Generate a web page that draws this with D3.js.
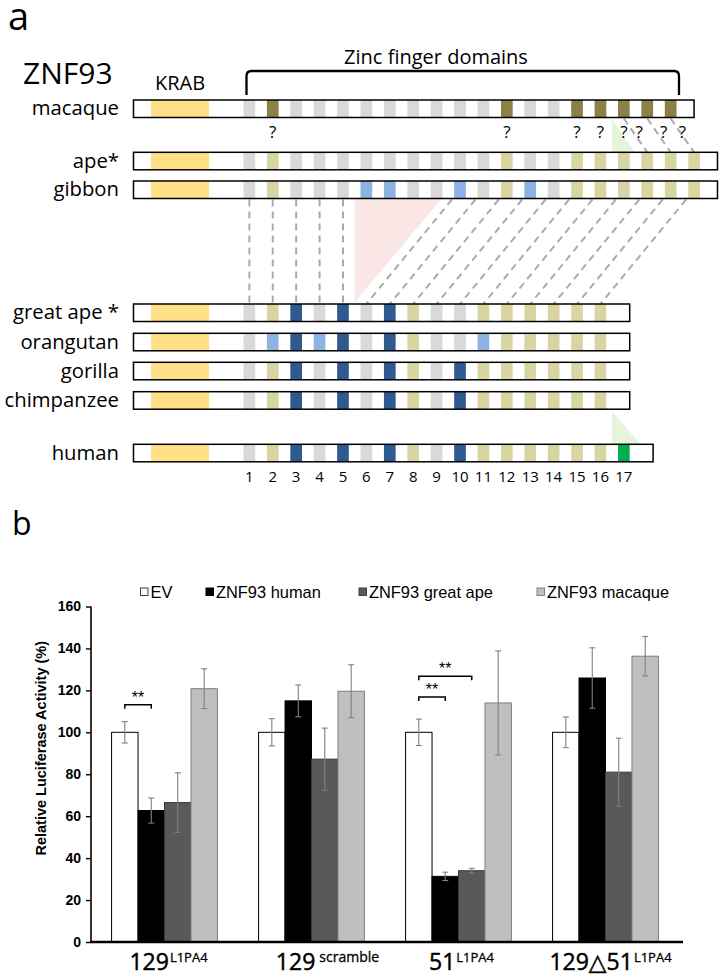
<!DOCTYPE html>
<html><head><meta charset="utf-8">
<script src="https://cdn.jsdelivr.net/npm/d3@7"></script>
<style>body{margin:0;background:#fff} svg{display:block}</style>
</head><body>
<svg id="c" width="725" height="979"></svg>
<script>
// ================= Panel a data =================
const species = ["macaque","ape*","gibbon","great ape *","orangutan","gorilla","chimpanzee","human"];
const zfMacaque   = "g d g g g g g g g g g d g g d d d d d".split(" ");
const zfApe       = "g o g g g g g g g g g o g g o o o o o o".split(" ");
const zfGibbon    = "g o g g g b b g g b g o b g o o o o o o".split(" ");
const zfGreatApe  = "g o n g n g n o g g o o o o o o".split(" ");
const zfOrangutan = "g b n b n g n o g g b o o o o o".split(" ");
const zfGorilla   = "g o n g n g n o g n o o o o o o".split(" ");
const zfChimp     = "g o n g n g n o g n o o o o o o".split(" ");
const zfHuman     = "g o n g n g n o g n o o o o o o G".split(" ");
const zfBySpecies = [zfMacaque, zfApe, zfGibbon, zfGreatApe, zfOrangutan, zfGorilla, zfChimp, zfHuman];
// protein extent in zinc-finger units
const proteinStart = -3.7;
const proteinEnd = [20.25, 21.25, 21.25, 17.5, 17.5, 17.5, 17.5, 18.5];
const krabDomain = [-2.95, -0.47];
const zfNumbers = d3.range(1, 18);
const questionMarks = [2, 12, 15, 16, 17, 17.65, 18.7, 19.5];
const linksMacApe = [[17,18],[18,19],[19,20]];
const linksGibbonGreatApe = [[1,1],[2,2],[3,3],[4,4],[5,5],[10,6],[11,7],[12,8],[13,9],[14,10],[15,11],[16,12],[17,13],[18,14],[19,15],[20,16]];
const deletionGibbon = {from:[5.75, 9.45], to:5.75};
const insertions = [{span:[16.75,17.72], rows:[0,1]}, {span:[16.75,17.95], rows:[6,7]}];

// ================= Panel b data =================
const groups = ["129", "129", "51", "129\u25B351"];
const groupSup = ["L1PA4", "scramble", "L1PA4", "L1PA4"];
const seriesNames = ["EV", "ZNF93 human", "ZNF93 great ape", "ZNF93 macaque"];
const valEV       = [100, 100, 100, 100];
const valHuman    = [62.7, 115, 31.3, 125.9];
const valGreatApe = [66.5, 87.2, 34, 81];
const valMacaque  = [120.8, 119.6, 114, 136.3];
const errEV       = [5.1, 6.5, 6.3, 7.3];
const errHuman    = [6.0, 7.6, 2.0, 14.4];
const errGreatApe = [14.2, 14.8, 1.1, 16.2];
const errMacaque  = [9.5, 12.6, 24.8, 9.4];
const yTicks = [0, 20, 40, 60, 80, 100, 120, 140, 160];
const sigBrackets = [{g:0, a:0, b:1, y:113.2}, {g:2, a:0, b:1, y:116.8}, {g:2, a:0, b:2, y:126.7}];

// ================= Drawing =================
const svg = d3.select("#c");
const FA = "'Open Sans', 'DejaVu Sans', sans-serif";
const FB = "'Liberation Sans', Arial, sans-serif";

const zfColor = {g:"#d9d9d9", o:"#d9d5a3", d:"#8c7f47", b:"#8db3e2", n:"#2f5a8f", G:"#00b050"};
const xZ = d3.scaleLinear().domain([1, 17]).range([243.5, 618]);
const zfW = 11.7;
const rowTop = [100, 152.3, 181, 304, 333.3, 362.3, 391.7, 444.3];
const rowH = 17.5;

svg.append("text").attr("x", 8).attr("y", 30).attr("font-family", FA).attr("font-size", 38).text("a");
svg.append("text").attr("x", 23).attr("y", 84).attr("font-family", FA).attr("font-size", 30).text("ZNF93");
svg.append("text").attr("x", 436).attr("y", 64).attr("text-anchor","middle").attr("font-family", FA).attr("font-size", 20).text("Zinc finger domains");
svg.append("text").attr("x", (xZ(krabDomain[0])+xZ(krabDomain[1]))/2).attr("y", 90).attr("text-anchor","middle").attr("font-family", FA).attr("font-size", 20).text("KRAB");

// brace
{
  const x0 = xZ(1) + 3, x1 = 679, yt = 71, yb = 95, r = 5;
  svg.append("path").attr("d", `M${x0},${yb} L${x0},${yt+r} Q${x0},${yt} ${x0+r},${yt} L${x1-r},${yt} Q${x1},${yt} ${x1},${yt+r} L${x1},${yb}`)
    .attr("fill","none").attr("stroke","#000").attr("stroke-width",2.3);
}

// deletion triangle (pink)
{
  const yT = rowTop[2] + rowH + 0.5, yB = rowTop[3] - 1.5;
  svg.append("path").attr("d", `M${xZ(deletionGibbon.from[0])},${yT} L${xZ(deletionGibbon.from[1])},${yT} L${xZ(deletionGibbon.to)},${yB} Z`)
    .attr("fill", "#fbe6e6");
}
// insertion triangles (green)
insertions.forEach(ins => {
  const yT = rowTop[ins.rows[0]] + rowH + 2, yB = rowTop[ins.rows[1]];
  svg.append("path").attr("d", `M${xZ(ins.span[0])},${yT} L${xZ(ins.span[0])},${yB} L${xZ(ins.span[1])},${yB} Z`)
    .attr("fill", "#e5f4da");
});

// dashed alignment lines
const dashStyle = sel => sel.attr("stroke", "#ababab").attr("stroke-width", 2).attr("stroke-dasharray", "7,5").attr("fill","none");
linksGibbonGreatApe.forEach(([a, b]) => {
  const off = a === b ? 0 : -8;
  svg.append("line")
    .attr("x1", xZ(a) + zfW/2 + off).attr("y1", rowTop[2] + rowH + 1)
    .attr("x2", xZ(b) + zfW/2).attr("y2", rowTop[3])
    .call(dashStyle);
});
linksMacApe.forEach(([a, b]) => {
  svg.append("line")
    .attr("x1", xZ(a) + zfW/2).attr("y1", rowTop[0] + rowH + 1)
    .attr("x2", xZ(b) + zfW/2).attr("y2", rowTop[1])
    .call(dashStyle);
});

// question marks
svg.selectAll("text.q").data(questionMarks).join("text").attr("class","q")
  .attr("x", d => xZ(d) + zfW/2).attr("y", 138).attr("text-anchor","middle")
  .attr("font-family", FA).attr("font-size", 17).text("?");

// protein rows
species.forEach((sp, i) => {
  const g = svg.append("g");
  const y = rowTop[i];
  g.append("rect").attr("x", xZ(proteinStart)).attr("y", y).attr("width", xZ(proteinEnd[i]) - xZ(proteinStart)).attr("height", rowH).attr("fill", "#fff");
  g.append("rect").attr("x", xZ(krabDomain[0])).attr("y", y).attr("width", xZ(krabDomain[1]) - xZ(krabDomain[0])).attr("height", rowH).attr("fill", "#ffe086");
  g.selectAll("rect.zf").data(zfBySpecies[i]).join("rect").attr("class","zf")
    .attr("x", (d, k) => xZ(k + 1)).attr("y", y).attr("width", zfW).attr("height", rowH)
    .attr("fill", d => zfColor[d]);
  g.append("rect").attr("x", xZ(proteinStart)).attr("y", y).attr("width", xZ(proteinEnd[i]) - xZ(proteinStart)).attr("height", rowH)
    .attr("fill", "none").attr("stroke", "#000").attr("stroke-width", 1.5);
  g.append("text").attr("x", 119).attr("y", y + rowH/2 + 6.5).attr("text-anchor","end")
    .attr("font-family", FA).attr("font-size", 20.3).text(sp);
});

// ZF numbers
svg.selectAll("text.num").data(zfNumbers).join("text").attr("class","num")
  .attr("x", d => xZ(d) + zfW/2).attr("y", 482).attr("text-anchor","middle")
  .attr("font-family", FA).attr("font-size", 15).text(d => d);

// ================= Panel b =================
svg.append("text").attr("x", 12).attr("y", 535).attr("font-family", FA).attr("font-size", 32).text("b");

const y = d3.scaleLinear().domain([0, 160]).range([942, 606.5]);
const x0 = d3.scaleBand().domain(d3.range(groups.length)).range([91, 679]).paddingInner(0.28).paddingOuter(0.14);
const x1 = d3.scaleBand().domain(d3.range(seriesNames.length)).range([0, x0.bandwidth()]);
const values = [valEV, valHuman, valGreatApe, valMacaque];
const errors = [errEV, errHuman, errGreatApe, errMacaque];
const fills = ["#ffffff", "#000000", "#595959", "#bfbfbf"];
const strokes = ["#000000", "#000000", "#3a3a3a", "#7f7f7f"];

// bars
const barData = [];
groups.forEach((g, gi) => seriesNames.forEach((s, si) => barData.push({gi, si, v: values[si][gi], e: errors[si][gi]})));
svg.append("g").selectAll("rect").data(barData).join("rect")
  .attr("x", d => x0(d.gi) + x1(d.si)).attr("y", d => y(d.v))
  .attr("width", x1.bandwidth()).attr("height", d => y(0) - y(d.v))
  .attr("fill", d => fills[d.si]).attr("stroke", d => strokes[d.si]).attr("stroke-width", 1);

// error bars
const eb = svg.append("g").attr("stroke", "#808080").attr("stroke-width", 1.1);
barData.forEach(d => {
  const cx = x0(d.gi) + x1(d.si) + x1.bandwidth()/2;
  eb.append("line").attr("x1", cx).attr("x2", cx).attr("y1", y(d.v + d.e)).attr("y2", y(d.v - d.e));
  eb.append("line").attr("x1", cx-3).attr("x2", cx+3).attr("y1", y(d.v + d.e)).attr("y2", y(d.v + d.e));
  eb.append("line").attr("x1", cx-3).attr("x2", cx+3).attr("y1", y(d.v - d.e)).attr("y2", y(d.v - d.e));
});

// y axis
const yAxis = svg.append("g").attr("transform", "translate(91,0)")
  .call(d3.axisLeft(y).tickValues(yTicks).tickSize(5).tickPadding(5));
yAxis.select(".domain").attr("stroke-width", 1.6).attr("d", `M0,${y(160)}V${y(0)}`);
yAxis.selectAll(".tick line").attr("stroke-width", 1.4);
yAxis.selectAll(".tick text").attr("font-family", FB).attr("font-weight", "bold").attr("font-size", 14).attr("fill","#000");

// x axis baseline
svg.append("line").attr("x1", 90).attr("x2", 683).attr("y1", y(0)).attr("y2", y(0)).attr("stroke", "#000").attr("stroke-width", 2.6);

// y label
svg.append("text").attr("transform", `translate(46,${(y(0)+y(160))/2 - 26}) rotate(-90)`)
  .attr("text-anchor", "middle").attr("font-family", FB).attr("font-weight", "bold").attr("font-size", 14.5)
  .text("Relative Luciferase Activity (%)");

// x labels
const labelShift = [4, 16, 3, 5];
groups.forEach((g, gi) => {
  const t = svg.append("text").attr("x", x0(gi) + x0.bandwidth()/2 + labelShift[gi]).attr("y", 970)
    .attr("text-anchor", "middle").attr("font-family", FA).attr("fill","#000")
    .attr("stroke", "#000").attr("stroke-width", 0.45);
  t.append("tspan").attr("font-size", 23).text(g);
  t.append("tspan").attr("font-size", gi === 1 ? 14 : 13).attr("stroke-width", 0.3).attr("dy", -8).attr("dx", gi === 1 ? 4 : 1).text(groupSup[gi]);
});

// significance brackets
sigBrackets.forEach(b => {
  const xa = x0(b.g) + x1(b.a) + x1.bandwidth()/2;
  const xb = x0(b.g) + x1(b.b) + x1.bandwidth()/2;
  const yy = y(b.y);
  svg.append("path").attr("d", `M${xa},${yy+4}V${yy}H${xb}V${yy+4}`).attr("fill","none").attr("stroke","#000").attr("stroke-width",1.5);
  svg.append("text").attr("x", (xa+xb)/2).attr("y", yy - 2).attr("text-anchor","middle")
    .attr("font-family", FB).attr("font-size", 16).text("**");
});

// legend
const legendX = [140.5, 206, 359, 537];
const legendFill = ["#ffffff", "#000000", "#595959", "#bfbfbf"];
const legendStroke = ["#404040", "#000000", "#404040", "#808080"];
seriesNames.forEach((s, i) => {
  svg.append("rect").attr("x", legendX[i]).attr("y", 588).attr("width", 7.5).attr("height", 7.5)
    .attr("fill", legendFill[i]).attr("stroke", legendStroke[i]).attr("stroke-width", 1);
  svg.append("text").attr("x", legendX[i] + 10).attr("y", 597.5).attr("font-family", FB).attr("font-size", 16.4).text(s);
});
</script>
</body></html>
